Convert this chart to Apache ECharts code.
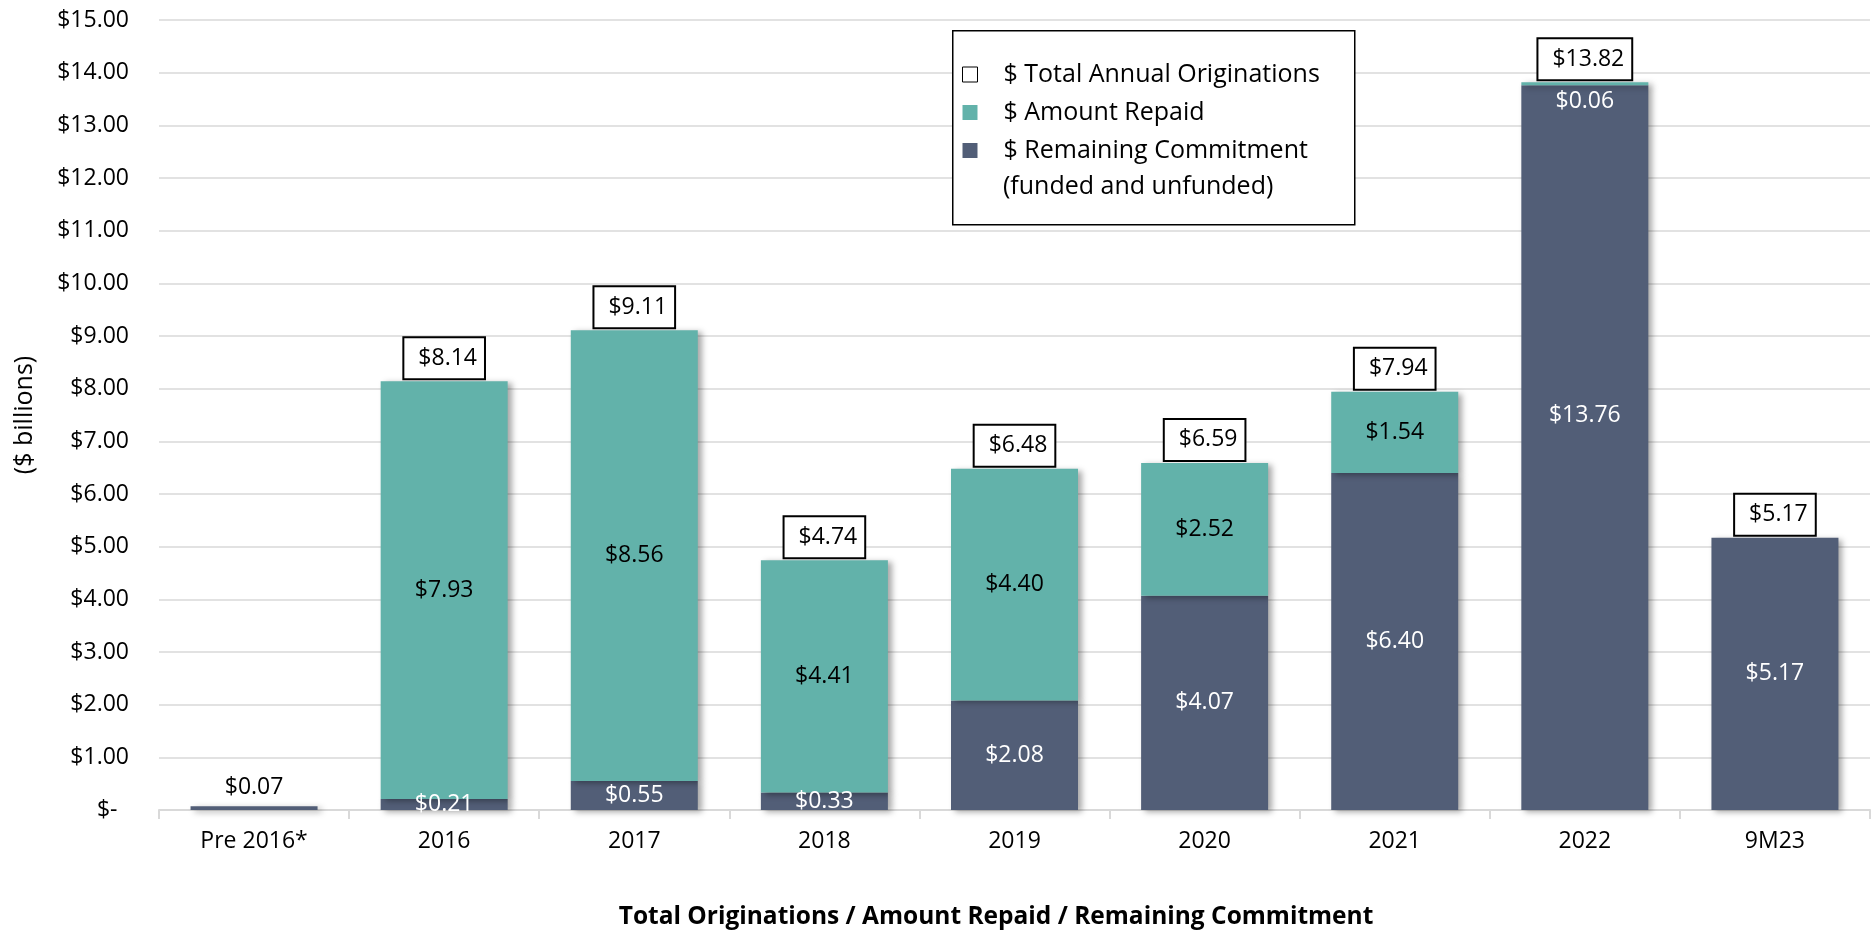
<!DOCTYPE html>
<html><head><meta charset="utf-8">
<script src="https://cdn.jsdelivr.net/npm/echarts@6/dist/echarts.min.js"></script>
<style>html,body{margin:0;padding:0;background:#fff}#c{width:1875px;height:933px}</style>
</head><body><div id="c"></div>
<script>
// ---- data ----
const categories = ['Pre 2016*', '2016', '2017', '2018', '2019', '2020', '2021', '2022', '9M23'];
const remainingCommitment = [0.07, 0.21, 0.55, 0.33, 2.08, 4.07, 6.40, 13.76, 5.17];
const amountRepaid = [0, 7.93, 8.56, 4.41, 4.40, 2.52, 1.54, 0.06, 0];
const totalOriginations = [0.07, 8.14, 9.11, 4.74, 6.48, 6.59, 7.94, 13.82, 5.17];
const yMin = 0, yMax = 15, yStep = 1;
const seriesNames = ['$ Total Annual Originations', '$ Amount Repaid', '$ Remaining Commitment'];
const legendSecondLine = '(funded and unfunded)';
const xTitle = 'Total Originations / Amount Repaid / Remaining Commitment';
const yTitle = '($ billions)';

// ---- styles ----
const FONT = '"Open Sans", Lato, sans-serif';
const TEAL = '#62B2AA';
const SLATE = '#525E77';
const GRID = '#D9D9D9';
const money = v => '$' + Number(v).toFixed(2);
const shadow = { shadowBlur: 6, shadowColor: 'rgba(0,0,0,0.35)', shadowOffsetX: 4, shadowOffsetY: 2 };

const remainingData = remainingCommitment.map((v, i) => {
  const item = { value: v };
  if (categories[i] === 'Pre 2016*') item.label = { show: false };
  if (categories[i] === '2022') item.label = { offset: [0, -32] };
  return item;
});
const repaidData = amountRepaid.map((v, i) => {
  const item = { value: v };
  if (categories[i] === '2022') item.label = { position: 'bottom', distance: 5, color: '#fff' };
  return item;
});
const totalData = totalOriginations.map((v, i) => {
  const item = { value: v };
  if (categories[i] === 'Pre 2016*') item.label = { backgroundColor: 'transparent', borderWidth: 0, padding: 0, distance: 7 };
  return item;
});

const chart = echarts.init(document.getElementById('c'), null, { renderer: 'canvas' });
chart.setOption({
  animation: false,
  backgroundColor: '#fff',
  textStyle: { fontFamily: FONT },
  grid: { left: 159, right: 5, top: 20, bottom: 123, containLabel: false, outerBoundsMode: 'none' },
  legend: {
    orient: 'vertical', left: 962, top: 62, padding: 0, itemGap: 13,
    itemWidth: 15, itemHeight: 15, selectedMode: false,
    textStyle: { fontFamily: FONT, fontSize: 25, lineHeight: 25, color: '#000', padding: [0, 0, 0, 21] },
    data: [
      { name: seriesNames[0], icon: 'rect', itemStyle: { color: '#fff', borderColor: '#000', borderWidth: 1 } },
      { name: seriesNames[1], icon: 'rect', itemStyle: { color: TEAL, borderWidth: 0, shadowBlur: 0 } },
      { name: seriesNames[2], icon: 'rect', itemStyle: { color: SLATE, borderWidth: 0, shadowBlur: 0 } }
    ]
  },
  graphic: [
    { type: 'rect', left: 952, top: 30, z: 1, shape: { width: 402, height: 194 },
      style: { fill: '#fff', stroke: '#000', lineWidth: 1.5 } },
    { type: 'text', left: 1003, top: 174, z: 5,
      style: { text: legendSecondLine, font: '25px ' + FONT, fill: '#000' } }
  ],
  xAxis: {
    type: 'category', data: categories,
    name: xTitle, nameLocation: 'middle', nameGap: 95,
    nameTextStyle: { fontFamily: FONT, fontSize: 24.5, fontWeight: 'bold', color: '#000', padding: [0, 37, 0, 0] },
    axisLine: { show: true, lineStyle: { color: GRID, width: 2 } },
    axisTick: { show: true, length: 9, alignWithLabel: false, interval: 0, lineStyle: { color: GRID, width: 2 } },
    axisLabel: { interval: 0, margin: 20, fontFamily: FONT, fontSize: 23, color: '#000' },
    splitLine: { show: false }
  },
  yAxis: {
    type: 'value', min: yMin, max: yMax, interval: yStep,
    name: yTitle, nameLocation: 'middle', nameGap: 122, nameRotate: 90,
    nameTextStyle: { fontFamily: FONT, fontSize: 25, color: '#000' },
    axisLine: { show: false }, axisTick: { show: false },
    axisLabel: { margin: 30, fontFamily: FONT, fontSize: 23, color: '#000',
      formatter: v => v === 0 ? '$-\u2002' : money(v) },
    splitLine: { show: true, lineStyle: { color: GRID, width: 1.5 } }
  },
  series: [
    {
      name: seriesNames[2], type: 'bar', stack: 'orig', barWidth: 127, data: remainingData,
      itemStyle: Object.assign({ color: SLATE }, shadow),
      label: { show: true, position: 'inside', formatter: p => p.value ? money(p.value) : '',
        fontFamily: FONT, fontSize: 23, color: '#fff' }
    },
    {
      name: seriesNames[1], type: 'bar', stack: 'orig', barWidth: 127, data: repaidData,
      itemStyle: Object.assign({ color: TEAL }, shadow),
      label: { show: true, position: 'inside', formatter: p => p.value ? money(p.value) : '',
        fontFamily: FONT, fontSize: 23, color: '#000' }
    },
    {
      name: seriesNames[0], type: 'bar', barWidth: 127, barGap: '-100%', data: totalData, z: 3,
      itemStyle: { color: 'rgba(0,0,0,0)' },
      label: { show: true, position: 'top', distance: 3, formatter: p => money(p.value),
        fontFamily: FONT, fontSize: 23, lineHeight: 24, color: '#000',
        backgroundColor: '#fff', borderColor: '#000', borderWidth: 2, padding: [8, 7, 8, 14] }
    }
  ]
});
</script>
</body></html>
